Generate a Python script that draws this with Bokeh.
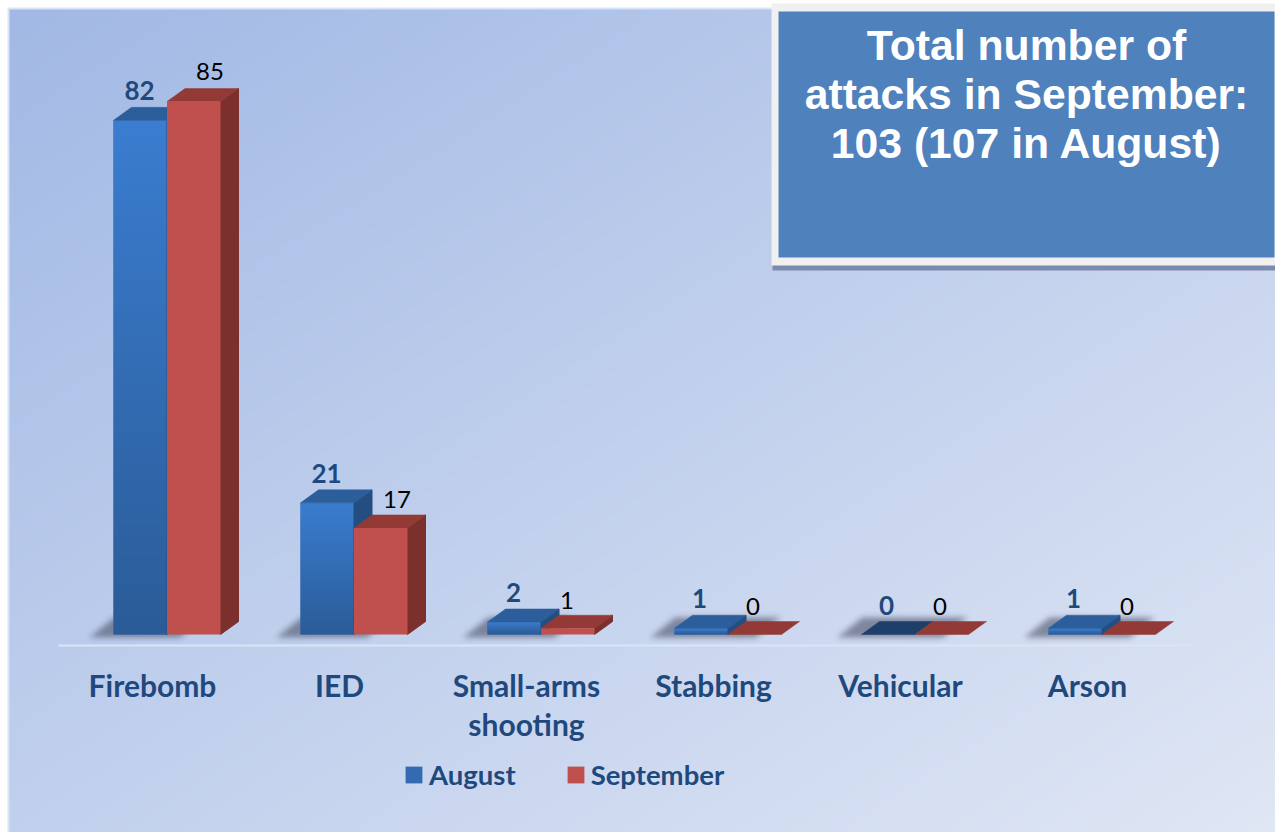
import numpy as np
from bokeh.core.properties import value
from bokeh.embed import file_html
from bokeh.models import ColumnDataSource, FixedTicker, Legend, LegendItem, Range1d
from bokeh.plotting import figure
from bokeh.resources import INLINE

categories = ["Firebomb", "IED", "Small-arms\nshooting", "Stabbing", "Vehicular", "Arson"]
august = [82, 21, 2, 1, 0, 1]
september = [85, 17, 1, 0, 0, 0]
title_lines = ["Total number of", "attacks in September:", "103 (107 in August)"]

# Layout in figure pixels (style only)
W, H = 1275, 832
PX_PER_CAT, PX_PER_VAL = 187.0, 6.27
LABEL0_PX, BASE_PX = 152.0, 634.0
x_start = -LABEL0_PX / PX_PER_CAT
X = lambda px: x_start + px / PX_PER_CAT
Y = lambda py: (BASE_PX - py) / PX_PER_VAL
DX, DY = 18 / PX_PER_CAT, 13 / PX_PER_VAL
B_L, MID, R_R = -39 / PX_PER_CAT, 14.5 / PX_PER_CAT, 68 / PX_PER_CAT

BLUE_TOP, BLUE_BOT = (59, 125, 208), (43, 92, 152)
BLUE_ROOF, BLUE_SIDE, BLUE_ZERO = "#2C5E9C", "#254E80", "#1F3F6B"
RED, RED_ROOF, RED_SIDE = "#C0504D", "#933A37", "#7B302E"
NAVY = "#1F497D"
LATO = value("Lato")


def rgba(r, g, b, a):
    out = np.zeros(r.shape, dtype=np.uint32)
    v = out.view(dtype=np.uint8).reshape(r.shape + (4,))
    v[..., 0], v[..., 1], v[..., 2], v[..., 3] = r, g, b, a
    return out


p = figure(width=W, height=H, output_backend="svg", toolbar_location=None, min_border=0,
           x_range=Range1d(x_start, x_start + W / PX_PER_CAT),
           y_range=Range1d(Y(H), Y(0)),
           background_fill_color="white", border_fill_color="white", outline_line_color=None)
p.grid.visible = False
p.yaxis.visible = False

# Panel background: diagonal gradient
gh, gw = 207, 319
yy, xx = np.mgrid[0:gh, 0:gw]
t = xx / (gw - 1) * 0.5 + yy / (gh - 1) * 0.5
tt = t[::-1, :]
bg = rgba(162 + (224 - 162) * tt, 185 + (231 - 185) * tt, 229 + (245 - 229) * tt, 255 + 0 * tt)
p.image_rgba(image=[bg], x=[X(8)], y=[Y(834)], dw=[1273 / PX_PER_CAT], dh=[826 / PX_PER_VAL])
p.quad(left=[X(8)], right=[X(1281)], top=[Y(8)], bottom=[Y(834)], fill_color=None,
       line_color="#D7E5F6", line_width=2)


def shadow(i, zero_red):
    x0 = int(LABEL0_PX + PX_PER_CAT * i - 39)
    x_a, x_b = x0 - 36, x0 + (125 if zero_red else 82)
    y_a, y_b = 606, 644
    ys, xs = np.mgrid[y_a:y_b, x_a:x_b]
    f = np.clip((ys - 617) / 19.0, 0, 1)
    left = x0 - 24 * f
    right = left + (105 if zero_red else 90)
    m = ((ys >= 617) & (ys <= 636) & (xs >= left) & (xs <= right)).astype(float)
    k = np.exp(-0.5 * (np.arange(-8, 9) / 3.0) ** 2)
    k /= k.sum()
    m = np.apply_along_axis(lambda c: np.convolve(c, k, "same"), 0, m)
    m = np.apply_along_axis(lambda c: np.convolve(c, k, "same"), 1, m)
    a = (m * 140)[::-1, :]
    arr = rgba(60 + 0 * a, 66 + 0 * a, 88 + 0 * a, a)
    p.image_rgba(image=[arr], x=[X(x_a)], y=[Y(y_b)], dw=[(x_b - x_a) / PX_PER_CAT],
                 dh=[(y_b - y_a) / PX_PER_VAL])


for i in range(len(categories)):
    shadow(i, september[i] == 0)

xs_i = np.arange(len(categories))
a_v, s_v = np.array(august, float), np.array(september, float)


def faces(left, right, vals, roof, side, roof_colors=None):
    roof_x = [[l, r, r + DX, l + DX] for l, r in zip(left, right)]
    roof_y = [[v, v, v + DY, v + DY] for v in vals]
    side_x = [[r, r + DX, r + DX, r] for r in right]
    side_y = [[0, DY, v + DY, v] for v in vals]
    keep = [k for k, v in enumerate(vals) if v > 0]
    p.patches([side_x[k] for k in keep], [side_y[k] for k in keep], fill_color=side, line_color=side)
    p.patches(roof_x, roof_y, fill_color=roof_colors or roof, line_color=roof_colors or roof, line_width=0.5)


# August: front, gradient, roof and side
blue_src = ColumnDataSource(dict(left=xs_i + B_L, right=xs_i + MID, top=a_v, bottom=0 * a_v))
blue = p.quad(left="left", right="right", top="top", bottom="bottom", source=blue_src,
              fill_color="#346BB0", line_color=None)
for i, v in enumerate(august):
    if v > 0:
        n = max(int(round(v * PX_PER_VAL)), 1)
        f = (np.arange(n) / max(n - 1, 1))[:, None] * np.ones((n, 4))
        arr = rgba(BLUE_BOT[0] + (BLUE_TOP[0] - BLUE_BOT[0]) * f,
                   BLUE_BOT[1] + (BLUE_TOP[1] - BLUE_BOT[1]) * f,
                   BLUE_BOT[2] + (BLUE_TOP[2] - BLUE_BOT[2]) * f, 255 + 0 * f)
        p.image_rgba(image=[arr], x=[i + B_L], y=[0], dw=[MID - B_L], dh=[v])
faces(xs_i + B_L, xs_i + MID, a_v, BLUE_ROOF, BLUE_SIDE,
      [BLUE_ZERO if v == 0 else BLUE_ROOF for v in august])

# September
faces(xs_i + MID, xs_i + R_R, s_v, RED_ROOF, RED_SIDE)
red_src = ColumnDataSource(dict(left=xs_i + MID, right=xs_i + R_R, top=s_v, bottom=0 * s_v))
red = p.quad(left="left", right="right", top="top", bottom="bottom", source=red_src,
             fill_color=RED, line_color=None)

# Data labels (vertically centred on the digits)
a_dx = [-13, -13, -13, -14, -14, -14]
s_dx = [43, 43, 26, 25, 25, 25]
s_dy = [30, 28, 28, 28.5, 28.5, 28.5]
a_lab = ColumnDataSource(dict(x=xs_i + np.array(a_dx) / PX_PER_CAT, y=a_v + 29.5 / PX_PER_VAL,
                              t=[str(v) for v in august]))
s_lab = ColumnDataSource(dict(x=xs_i + MID + np.array(s_dx) / PX_PER_CAT,
                              y=s_v + np.array(s_dy) / PX_PER_VAL,
                              t=[str(v) for v in september]))
p.text(x="x", y="y", text="t", source=a_lab, text_font=LATO, text_font_style="bold",
       text_font_size="26px", text_color=NAVY, text_align="center", text_baseline="middle")
p.text(x="x", y="y", text="t", source=s_lab, text_font=LATO, text_font_size="24px",
       text_color="#000000", text_align="center", text_baseline="middle")

# Category axis, drawn inside the panel
ax = p.xaxis[0]
ax.ticker = FixedTicker(ticks=list(range(len(categories))))
ax.major_label_overrides = {i: c for i, c in enumerate(categories)}
ax.fixed_location = Y(645)
ax.bounds = (X(58), X(1190))
ax.axis_line_color = "#D9E5F6"
ax.axis_line_width = 2
ax.major_tick_line_color = None
ax.minor_tick_line_color = None
ax.major_label_standoff = 15
ax.major_label_text_font = "Lato"
ax.major_label_text_font_style = "bold"
ax.major_label_text_font_size = "30px"
ax.major_label_text_color = NAVY
ax.major_label_text_line_height = 1.09

# Title box
p.quad(left=[X(772)], right=[X(1283)], top=[Y(264)], bottom=[Y(270)], fill_color="#7A8BAD", line_color=None)
p.quad(left=[X(771)], right=[X(1283)], top=[Y(3)], bottom=[Y(265)], fill_color="#F0F0F0", line_color=None)
p.quad(left=[X(778)], right=[X(1274)], top=[Y(11)], bottom=[Y(257)], fill_color="#4F81BD", line_color=None)
for line, mid in zip(title_lines, [44, 93, 142]):
    p.text(x=[X(1026)], y=[Y(mid)], text=[line], text_font=value("Liberation Sans"),
           text_font_style="bold", text_font_size="42.7px", text_color="white",
           text_align="center", text_baseline="middle")

legend = Legend(items=[LegendItem(label="August", renderers=[blue]),
                       LegendItem(label="September", renderers=[red])],
                orientation="horizontal", location=(403, 41), background_fill_alpha=0,
                border_line_color=None, padding=0, margin=0, spacing=49, glyph_width=21,
                glyph_height=21, label_standoff=5, label_text_font="Lato",
                label_text_font_style="bold", label_text_font_size="27.5px", label_text_color=NAVY,
                label_height=21)
p.add_layout(legend, "center")

open("out.html", "w").write(file_html(p, INLINE))
